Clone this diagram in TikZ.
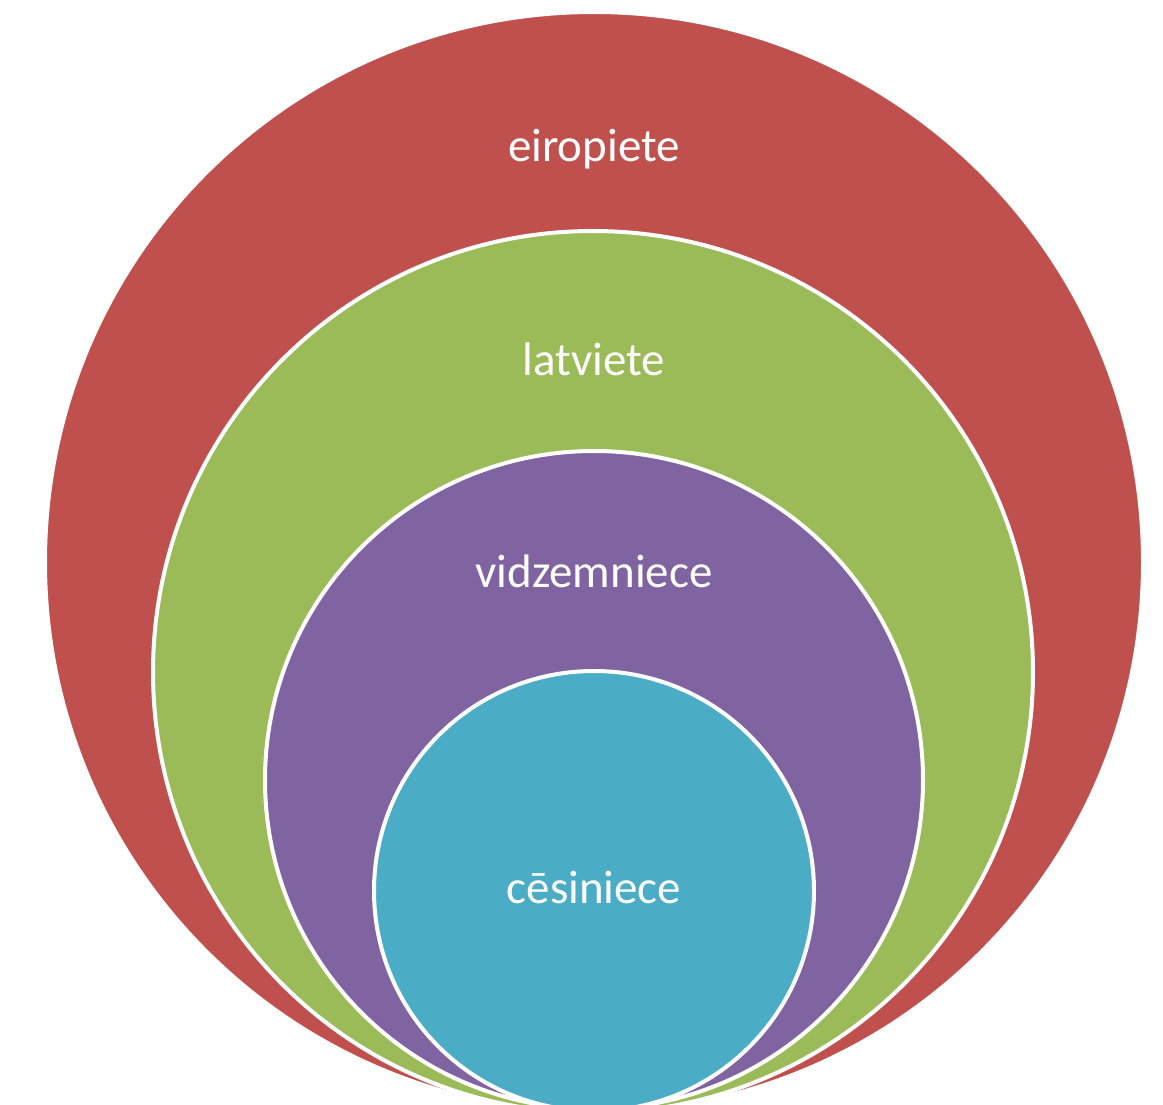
\documentclass[tikz,border=0pt]{standalone}
\usepackage{fontspec}
\setmainfont{Carlito}
\usepackage{tikz}
\usetikzlibrary{positioning}
\definecolor{euroRed}{RGB}{192,80,77}
\definecolor{latGreen}{RGB}{155,187,89}
\definecolor{vidPurple}{RGB}{128,100,162}
\definecolor{cesCyan}{RGB}{75,172,198}

\begin{document}
\begin{tikzpicture}[
    x=1pt, y=-1pt,
    ring/.style={draw=white, line width=4pt, fill=#1},
    lbl/.style={text=white, anchor=base, inner sep=0pt, font=\fontsize{47}{56}\selectfont}
]
\clip (0,0) rectangle (1163,1105);
\fill[white] (0,0) rectangle (1163,1105);

% nested sets, all touching at the bottom
\filldraw[ring=euroRed]   (594,562) ellipse [x radius=549, y radius=550];
\filldraw[ring=latGreen]  (593,672) ellipse [x radius=440, y radius=441];
\filldraw[ring=vidPurple] (594,780) ellipse [x radius=329, y radius=329];
\filldraw[ring=cesCyan]   (594,891) ellipse [x radius=220, y radius=220];

\node[lbl] (euro) at (594,162) {eiropiete};
\node[lbl] (lat)  at (594,375) {latviete};
\node[lbl] (vid)  at (594,587) {vidzemniece};
\node[lbl] (ces)  at (594,903) {cēsiniece};
\end{tikzpicture}
\end{document}
